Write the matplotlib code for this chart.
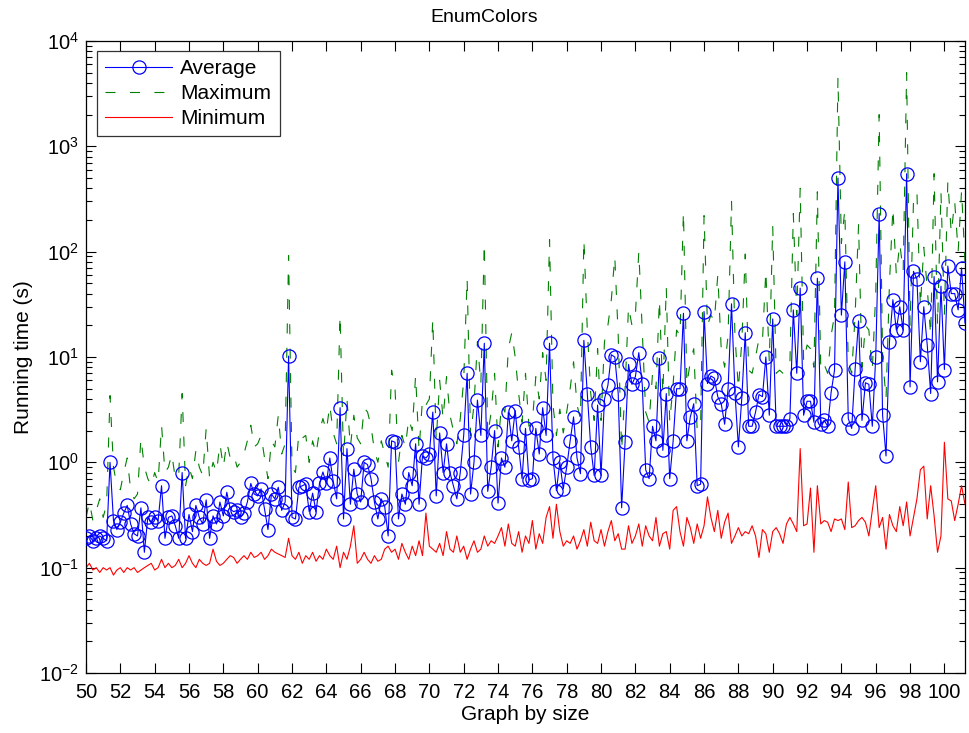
import numpy as np
import matplotlib
matplotlib.use("Agg")
import matplotlib.pyplot as plt
from matplotlib.ticker import LogLocator, NullFormatter, FixedLocator

plt.rcParams['font.family'] = ['Liberation Sans', 'DejaVu Sans']
plt.rcParams['mathtext.fontset'] = 'custom'
plt.rcParams['mathtext.rm'] = 'Liberation Sans'

# five graphs per size, sizes 50 .. 101
size_start = 50
graphs_per_size = 5

average = [
    0.19, 0.20, 0.18, 0.19, 0.20, 0.19, 0.18, 1.0, 0.28, 0.23,
    0.27, 0.33, 0.39, 0.26, 0.21, 0.20, 0.37, 0.14, 0.30, 0.27,
    0.30, 0.28, 0.60, 0.19, 0.30, 0.31, 0.25, 0.19, 0.80, 0.19,
    0.32, 0.22, 0.39, 0.30, 0.26, 0.44, 0.19, 0.31, 0.26, 0.42,
    0.31, 0.52, 0.36, 0.34, 0.35, 0.30, 0.33, 0.42, 0.63, 0.50,
    0.48, 0.56, 0.36, 0.23, 0.50, 0.45, 0.58, 0.35, 0.42, 10.2,
    0.30, 0.29, 0.58, 0.60, 0.62, 0.34, 0.51, 0.34, 0.63, 0.81,
    0.63, 1.1, 0.66, 0.45, 3.3, 0.29, 1.35, 0.40, 0.86, 0.50,
    0.42, 1.0, 0.95, 0.70, 0.42, 0.29, 0.45, 0.38, 0.20, 1.6,
    1.55, 0.29, 0.50, 0.40, 0.80, 0.60, 1.5, 0.40, 1.15, 1.1,
    1.2, 3.0, 0.48, 1.9, 0.80, 1.5, 0.80, 0.60, 0.45, 0.80,
    1.8, 7.0, 0.50, 1.0, 3.9, 1.8, 13.5, 0.53, 0.90, 2.0,
    0.41, 1.1, 0.90, 3.0, 1.6, 3.1, 1.4, 0.70, 2.1, 0.68,
    0.70, 2.1, 1.2, 3.3, 1.8, 13.5, 1.1, 0.54, 1.0, 0.56,
    0.90, 1.6, 2.7, 1.1, 0.78, 14.4, 4.5, 1.4, 0.75, 3.5,
    0.75, 4.0, 5.4, 10.5, 10.0, 4.5, 0.37, 1.55, 8.5, 5.5,
    6.5, 11.0, 5.5, 0.85, 0.70, 2.2, 1.6, 9.7, 1.3, 4.5,
    0.70, 1.6, 5.0, 5.0, 26.0, 1.6, 2.7, 3.6, 0.60, 0.62,
    27.0, 5.6, 6.6, 6.3, 4.2, 3.6, 2.3, 5.0, 32.0, 4.6,
    1.4, 4.1, 17.0, 2.2, 2.2, 3.0, 4.4, 4.2, 10.0, 2.8,
    23.0, 2.2, 2.2, 2.2, 2.2, 2.6, 28.0, 7.0, 45.0, 2.8,
    3.8, 3.8, 2.4, 56.0, 2.3, 2.5, 2.2, 4.6, 7.5, 500.0,
    25.0, 80.0, 2.6, 2.1, 7.7, 22.0, 2.5, 5.7, 5.5, 2.2,
    10.0, 230.0, 2.8, 1.15, 14.0, 35.0, 18.0, 30.0, 18.0, 550.0,
    5.2, 65.0, 55.0, 9.0, 30.0, 13.0, 4.5, 58.0, 5.8, 47.0,
    7.6, 73.0, 40.0, 40.0, 28.0, 70.0, 21.0,
]

maximum = [
    0.30, 0.42, 0.28, 0.35, 0.45, 0.30, 0.40, 4.3, 0.9, 0.6,
    0.55, 0.8, 1.1, 0.55, 0.45, 0.5, 1.7, 0.9, 0.7, 0.6,
    0.8, 0.65, 2.25, 0.8, 0.9, 1.2, 0.7, 0.75, 4.5, 0.6,
    0.9, 0.7, 1.3, 0.9, 0.75, 2.1, 0.7, 1.0, 0.8, 1.5,
    0.9, 1.55, 1.1, 1.2, 0.9, 1.0, 1.2, 1.6, 2.25, 1.4,
    1.5, 1.8, 1.1, 0.7, 1.6, 1.4, 2.8, 1.2, 1.5, 92.0,
    0.9, 0.8, 1.9, 1.7, 1.8, 1.0, 1.6, 1.2, 2.0, 2.6,
    2.0, 3.5, 1.9, 1.5, 25.0, 1.1, 4.0, 1.4, 2.8, 1.7,
    1.5, 3.3, 3.0, 2.2, 1.3, 1.0, 1.6, 1.2, 0.9, 7.5,
    5.0, 1.0, 1.8, 1.4, 2.6, 2.0, 6.7, 1.3, 4.0, 3.5,
    4.0, 23.0, 1.6, 6.0, 2.6, 6.5, 2.8, 2.0, 1.5, 2.6,
    6.0, 56.0, 1.8, 3.5, 14.0, 5.5, 120.0, 1.8, 3.0, 7.0,
    1.4, 3.5, 3.0, 12.0, 17.0, 10.0, 4.5, 2.4, 7.0, 2.2,
    2.4, 6.5, 4.0, 11.0, 6.0, 130.0, 3.5, 1.8, 3.2, 1.9,
    3.0, 5.0, 9.0, 3.5, 2.6, 130.0, 18.0, 4.5, 2.5, 12.0,
    2.5, 14.0, 20.0, 35.0, 90.0, 16.0, 1.3, 5.0, 30.0, 20.0,
    25.0, 100.0, 18.0, 3.0, 2.4, 7.0, 5.0, 35.0, 4.5, 46.0,
    2.4, 5.5, 18.0, 16.0, 240.0, 5.5, 9.0, 12.0, 2.0, 2.2,
    220.0, 20.0, 25.0, 22.0, 60.0, 12.0, 8.0, 16.0, 300.0, 16.0,
    5.0, 14.0, 95.0, 7.5, 7.0, 10.0, 15.0, 14.0, 66.0, 9.0,
    175.0, 7.0, 7.5, 7.0, 7.5, 8.5, 230.0, 25.0, 400.0, 9.0,
    13.0, 12.0, 8.0, 370.0, 7.5, 8.5, 7.0, 16.0, 25.0, 4500.0,
    120.0, 250.0, 9.0, 7.0, 25.0, 180.0, 8.0, 20.0, 18.0, 7.5,
    40.0, 2000.0, 10.0, 4.0, 50.0, 260.0, 60.0, 120.0, 65.0, 5000.0,
    20.0, 300.0, 370.0, 30.0, 110.0, 45.0, 16.0, 550.0, 20.0, 370.0,
    25.0, 470.0, 150.0, 300.0, 100.0, 380.0, 80.0,
]

minimum = [
    0.10, 0.11, 0.095, 0.10, 0.09, 0.10, 0.095, 0.10, 0.085, 0.095,
    0.10, 0.09, 0.10, 0.095, 0.10, 0.09, 0.095, 0.10, 0.105, 0.11,
    0.095, 0.10, 0.12, 0.10, 0.11, 0.10, 0.105, 0.12, 0.10, 0.11,
    0.13, 0.11, 0.10, 0.12, 0.11, 0.105, 0.11, 0.15, 0.115, 0.105,
    0.11, 0.12, 0.13, 0.125, 0.11, 0.12, 0.13, 0.12, 0.14, 0.125,
    0.13, 0.14, 0.12, 0.13, 0.15, 0.14, 0.135, 0.13, 0.125, 0.19,
    0.13, 0.12, 0.14, 0.11, 0.13, 0.12, 0.14, 0.115, 0.13, 0.12,
    0.15, 0.13, 0.12, 0.16, 0.10, 0.14, 0.12, 0.16, 0.25, 0.11,
    0.12, 0.14, 0.12, 0.11, 0.13, 0.115, 0.12, 0.15, 0.16, 0.14,
    0.15, 0.12, 0.17, 0.14, 0.12, 0.16, 0.13, 0.18, 0.13, 0.33,
    0.16, 0.15, 0.14, 0.17, 0.13, 0.22, 0.15, 0.14, 0.20, 0.14,
    0.16, 0.12, 0.15, 0.18, 0.14, 0.15, 0.20, 0.16, 0.18, 0.17,
    0.20, 0.24, 0.16, 0.26, 0.17, 0.16, 0.22, 0.14, 0.20, 0.17,
    0.28, 0.15, 0.21, 0.17, 0.30, 0.38, 0.19, 0.40, 0.22, 0.16,
    0.18, 0.17, 0.20, 0.15, 0.18, 0.23, 0.16, 0.27, 0.18, 0.17,
    0.23, 0.16, 0.22, 0.28, 0.18, 0.21, 0.15, 0.15, 0.25, 0.17,
    0.20, 0.26, 0.16, 0.25, 0.20, 0.18, 0.30, 0.16, 0.21, 0.22,
    0.15, 0.35, 0.38, 0.22, 0.16, 0.30, 0.24, 0.17, 0.26, 0.19,
    0.25, 0.47, 0.30, 0.22, 0.35, 0.19, 0.27, 0.33, 0.17, 0.20,
    0.24, 0.20, 0.22, 0.21, 0.25, 0.20, 0.125, 0.23, 0.21, 0.14,
    0.22, 0.24, 0.21, 0.17, 0.26, 0.30, 0.26, 0.22, 1.35, 0.25,
    0.26, 0.57, 0.14, 0.60, 0.26, 0.28, 0.27, 0.22, 0.29, 0.28,
    0.29, 0.23, 0.65, 0.24, 0.25, 0.28, 0.30, 0.27, 0.20, 0.35,
    0.60, 0.24, 0.30, 0.15, 0.32, 0.25, 0.22, 0.38, 0.25, 0.42,
    0.20, 0.30, 0.45, 0.85, 0.92, 0.29, 0.60, 0.31, 0.14, 0.20,
    1.55, 0.45, 0.43, 0.28, 0.40, 0.60, 0.40,
]

x_ticks = list(range(50, 101, 2))
y_ticks = [1e-2, 1e-1, 1e0, 1e1, 1e2, 1e3, 1e4]
y_tick_labels = [r'$10^{-2}$', r'$10^{-1}$', r'$10^{0}$', r'$10^{1}$',
                 r'$10^{2}$', r'$10^{3}$', r'$10^{4}$']

x = size_start + np.arange(len(average)) / graphs_per_size

fig = plt.figure(figsize=(9.69, 7.33), dpi=100)
ax = fig.add_axes([86 / 969, 60 / 733, 879 / 969, 632 / 733])

ax.plot(x, average, color='#0000ff', lw=0.8, marker='o', ms=9.5,
        mfc='none', mec='#0000ff', mew=0.9, label='Average', zorder=3)
ax.plot(x, maximum, color='#008000', lw=0.8, dashes=(9, 13),
        label='Maximum', zorder=2)
ax.plot(x, minimum, color='#ff0000', lw=0.8, label='Minimum', zorder=2)

ax.set_yscale('log')
ax.set_xlim(50, x[-1])
ax.set_ylim(1e-2, 1e4)

ax.xaxis.set_major_locator(FixedLocator(x_ticks))
ax.set_xticks(x_ticks)
ax.set_xticklabels([str(t) for t in x_ticks])
ax.set_yticks(y_ticks)
ax.set_yticklabels(y_tick_labels)
ax.yaxis.set_minor_locator(LogLocator(base=10, subs=np.arange(2, 10), numticks=20))
ax.yaxis.set_minor_formatter(NullFormatter())

ax.tick_params(axis='both', which='both', direction='in', top=True, right=True,
               labelsize=14.5, colors='black')
ax.tick_params(axis='both', which='major', length=7, width=0.8)
ax.tick_params(axis='y', which='minor', length=4, width=0.8)
ax.tick_params(axis='x', which='major', pad=7)
ax.tick_params(axis='y', which='major', pad=5)
for s in ax.spines.values():
    s.set_linewidth(0.9)

fig.text(484 / 969, 1 - 18 / 733, 'EnumColors', fontsize=14, ha='center', va='center')
ax.set_xlabel('Graph by size', fontsize=15, labelpad=2)
ax.set_ylabel('Running time (s)', fontsize=15, labelpad=4)

leg = ax.legend(loc='upper left', bbox_to_anchor=(0.0125, 0.984), fontsize=15,
                frameon=True, fancybox=False, edgecolor='black',
                handlelength=3.2, borderpad=0.4, labelspacing=0.28,
                handletextpad=0.4, borderaxespad=0.0)
leg.get_frame().set_linewidth(0.9)

fig.savefig('out.png', dpi=100)
